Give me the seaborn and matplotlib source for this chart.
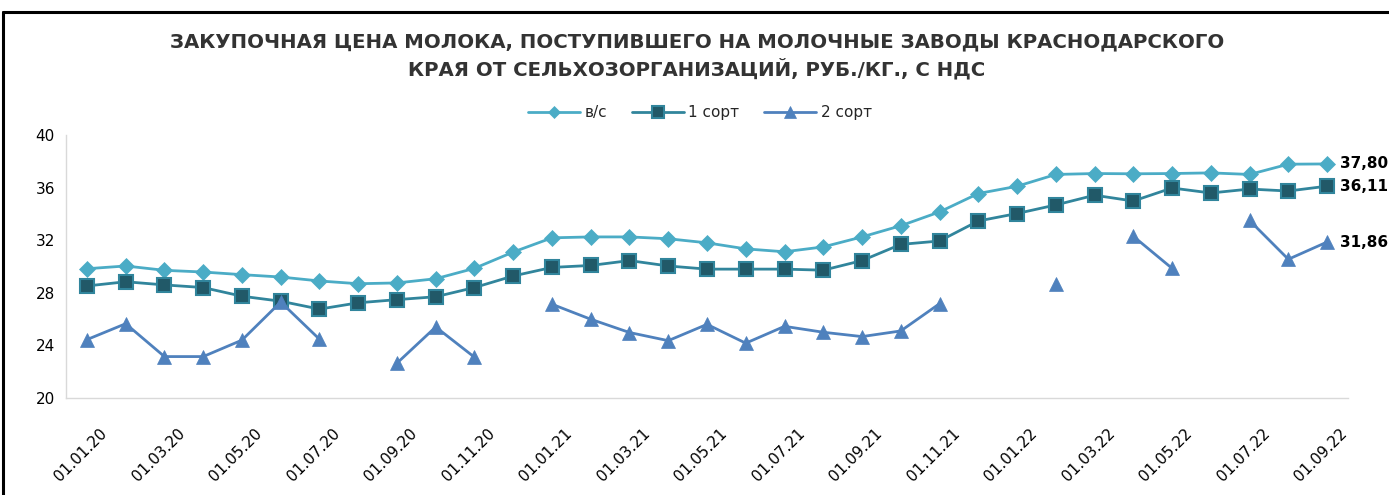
import numpy as np
import pandas as pd
import matplotlib
matplotlib.use("Agg")
import matplotlib.pyplot as plt
from matplotlib.lines import Line2D
from matplotlib.transforms import ScaledTranslation
import seaborn as sns

# ---- data ----
months = pd.date_range("2020-01-01", "2022-09-01", freq="MS").strftime("%d.%m.%y").tolist()
tick_labels = ["01.01.20", "01.03.20", "01.05.20", "01.07.20", "01.09.20", "01.11.20",
               "01.01.21", "01.03.21", "01.05.21", "01.07.21", "01.09.21", "01.11.21",
               "01.01.22", "01.03.22", "01.05.22", "01.07.22", "01.09.22"]
series_names = ["в/с", "1 сорт", "2 сорт"]
vs = [29.83, 30.04, 29.71, 29.58, 29.38, 29.20, 28.90, 28.69, 28.75, 29.07, 29.86,
      31.10, 32.18, 32.25, 32.25, 32.11, 31.80, 31.34, 31.12, 31.49, 32.25, 33.10,
      34.15, 35.55, 36.10, 37.00, 37.07, 37.05, 37.07, 37.12, 37.00, 37.78, 37.80]
s1 = [28.52, 28.84, 28.60, 28.40, 27.74, 27.36, 26.76, 27.24, 27.48, 27.70, 28.40,
      29.28, 29.93, 30.08, 30.45, 30.04, 29.80, 29.80, 29.80, 29.72, 30.45, 31.68,
      31.94, 33.46, 34.03, 34.68, 35.42, 34.98, 35.97, 35.59, 35.89, 35.74, 36.11]
nan = np.nan
s2 = [24.44, 25.65, 23.15, 23.15, 24.40, 27.30, 24.47, nan, 22.65, 25.40, 23.10,
      nan, 27.13, 25.99, 24.98, 24.36, 25.60, 24.17, 25.45, 25.00, 24.67, 25.10,
      27.17, nan, nan, 28.66, nan, 32.30, 29.86, nan, 33.50, 30.55, 31.86]
end_labels = ["37,80", "36,11", "31,86"]

# ---- styles ----
c_vs = "#4BACC6"
c_1 = "#31859C"
c_1_face = "#215968"
c_2 = "#4F81BD"

sns.set_theme(style="white")
plt.rcParams["font.family"] = ["DejaVu Sans"]

W, H = 1389, 495
fig = plt.figure(figsize=(W / 100, H / 100), dpi=100)
ax = fig.add_axes([66 / W, 1 - 398 / H, (1348 - 66) / W, (398 - 135) / H])

idx = np.arange(len(months))

sns.lineplot(x=idx, y=vs, ax=ax, color=c_vs, linewidth=2.0, marker="D",
             markersize=8, markeredgecolor=c_vs, markeredgewidth=0.5,
             label=series_names[0])
sns.lineplot(x=idx, y=s1, ax=ax, color=c_1, linewidth=2.0, marker="s",
             markersize=10, markerfacecolor=c_1_face, markeredgecolor=c_1,
             markeredgewidth=1.5, label=series_names[1])

df2 = pd.DataFrame({"i": idx, "v": s2})
df2["seg"] = df2["v"].isna().cumsum()
df2 = df2.dropna()
sns.lineplot(data=df2, x="i", y="v", units="seg", estimator=None, ax=ax,
             color=c_2, linewidth=2.0, marker="^", markersize=10,
             markeredgecolor=c_2, markeredgewidth=0.5, label=series_names[2])

# end labels
for vals, txt in zip([vs, s1, s2], end_labels):
    ax.annotate(txt, xy=(idx[-1], vals[-1]), xytext=(9, 0), textcoords="offset points",
                ha="left", va="center", fontsize=11, fontweight="bold", color="black",
                annotation_clip=False)

ax.set_xlim(-0.54, len(months) - 1 + 0.54)
ax.set_ylim(20, 40)
ax.set_yticks(np.arange(20, 41, 4))
ax.set_yticklabels([str(v) for v in range(20, 41, 4)], fontsize=11, color="black")
ax.set_xticks(idx[::2])
ax.set_xticklabels(tick_labels, rotation=45, ha="right", rotation_mode="anchor",
                   fontsize=11, color="black")
ax.tick_params(axis="x", length=0, pad=20)
ax.tick_params(axis="y", length=0, pad=8)
for lab in ax.get_xticklabels():
    lab.set_transform(lab.get_transform() + ScaledTranslation(9 / 72, 0, fig.dpi_scale_trans))
ax.set_xlabel("")
ax.set_ylabel("")
for s in ["top", "right"]:
    ax.spines[s].set_visible(False)
for s in ["left", "bottom"]:
    ax.spines[s].set_color("#D9D9D9")
    ax.spines[s].set_linewidth(1.0)

# legend
h, l = ax.get_legend_handles_labels()
uniq = {}
for hh, ll in zip(h, l):
    if ll not in uniq:
        uniq[ll] = hh
leg = ax.legend([uniq[n] for n in series_names], series_names, loc="center",
                bbox_to_anchor=(700 / W, 1 - 113 / H), bbox_transform=fig.transFigure,
                ncol=3, frameon=False, fontsize=11, handlelength=3.4,
                columnspacing=1.6, handletextpad=0.3, markerscale=0.8)

# title
fig.text(697 / W, 1 - 56 / H,
         "ЗАКУПОЧНАЯ ЦЕНА МОЛОКА, ПОСТУПИВШЕГО НА МОЛОЧНЫЕ ЗАВОДЫ КРАСНОДАРСКОГО\n"
         "КРАЯ ОТ СЕЛЬХОЗОРГАНИЗАЦИЙ, РУБ./КГ., С НДС",
         ha="center", va="center", fontsize=14.2, fontweight="bold", color="#333333",
         linespacing=1.35)

# outer frame (top and left edges visible)
fig.add_artist(Line2D([3 / W, 1], [1 - 12 / H, 1 - 12 / H], transform=fig.transFigure,
                      color="black", linewidth=2.2))
fig.add_artist(Line2D([3 / W, 3 / W], [0, 1 - 12 / H], transform=fig.transFigure,
                      color="black", linewidth=2.2))

fig.savefig("out.png", dpi=100)
